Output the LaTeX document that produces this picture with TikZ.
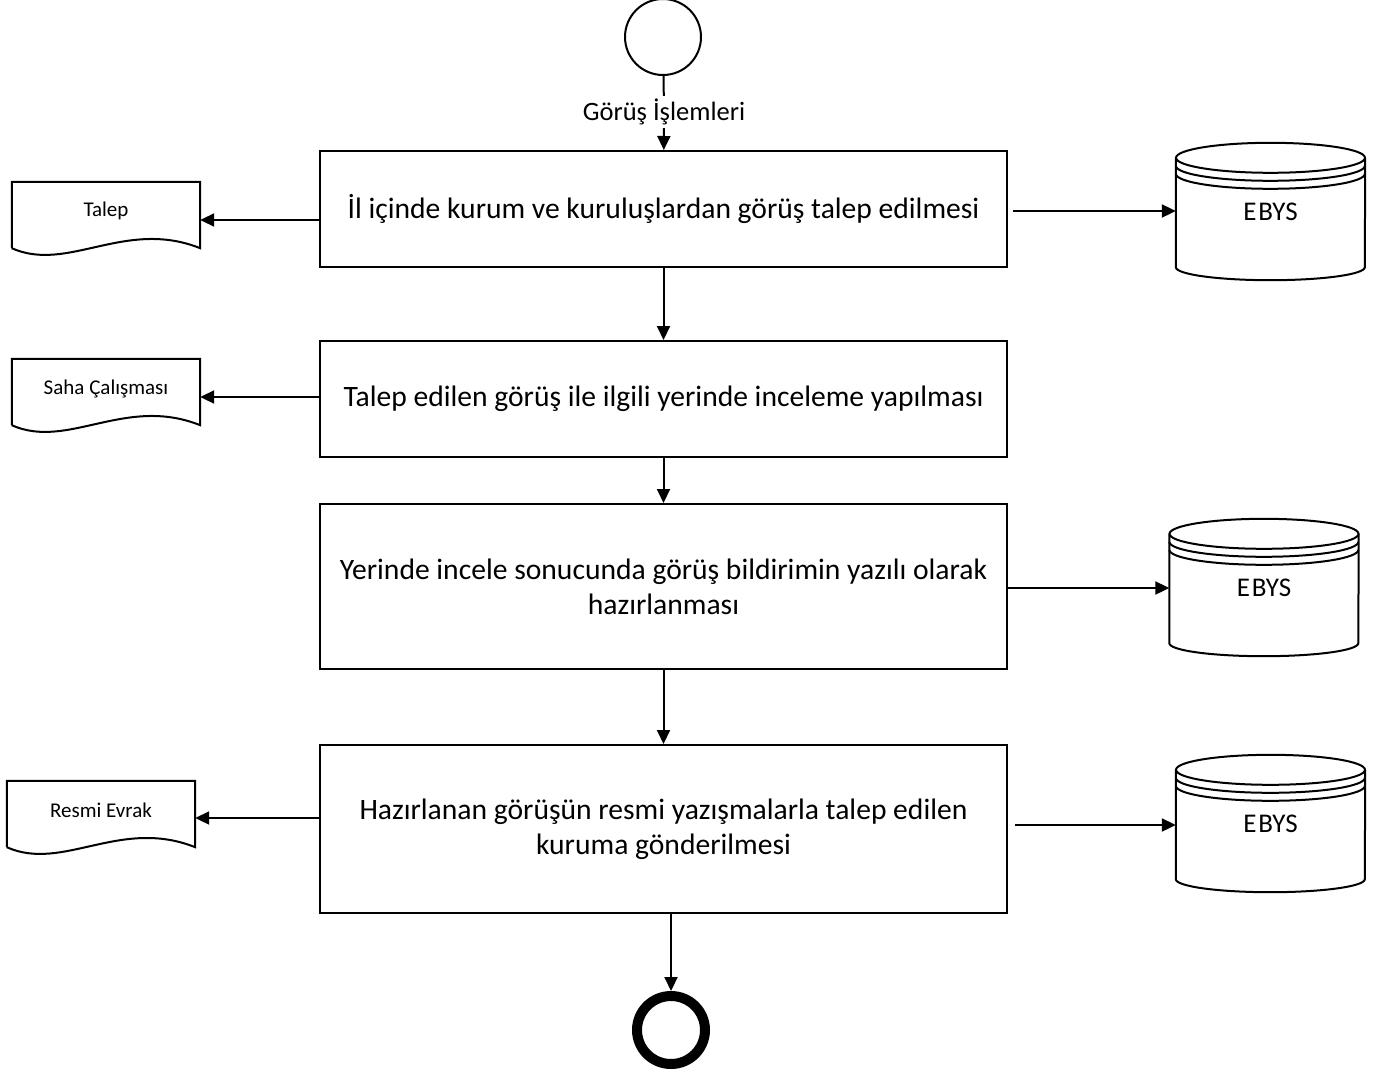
\documentclass[tikz,border=0pt]{standalone}
\usepackage{fontspec}
\setmainfont{Carlito}
\usetikzlibrary{arrows.meta,calc}
\tikzset{
  procbox/.style={draw, line width=2pt, minimum width=687pt, align=center, inner sep=0pt,
    font=\fontsize{29.6}{35}\selectfont},
  docnode/.style={minimum width=188pt, minimum height=66pt, inner sep=0pt,
    font=\fontsize{21}{25}\selectfont},
  cylnode/.style={minimum width=189pt, minimum height=137pt, inner sep=0pt,
    font=\fontsize{27}{30}\selectfont},
  shapeline/.style={line width=2pt},
  arr/.style={line width=2pt, -{Triangle[length=14pt,width=13pt]}},
  plain/.style={line width=2pt}
}
\newcommand\mydoc[1]{%
  \draw[shapeline, line join=miter] (#1.south west) -- (#1.north west) -- (#1.north east) -- (#1.south east)
    .. controls ($(#1.south east)+(-75,30)$) and ($(#1.south west)+(56,-25)$) .. (#1.south west);}
\newcommand\mycyl[1]{%
  \draw[shapeline] ($(#1.north)+(0,-15)$) ellipse[x radius=94.5pt, y radius=15pt];
  \draw[shapeline] ($(#1.north west)+(0,-15)$) -- ($(#1.south west)+(0,13)$)
    arc[start angle=180, end angle=360, x radius=94.5pt, y radius=13pt]
    -- ($(#1.north east)+(0,-15)$);
  \draw[shapeline] ($(#1.north west)+(0,-23)$) arc[start angle=180, end angle=360, x radius=94.5pt, y radius=15pt];
  \draw[shapeline] ($(#1.north west)+(0,-31)$) arc[start angle=180, end angle=360, x radius=94.5pt, y radius=15pt];}
\begin{document}
\begin{tikzpicture}[x=1pt,y=1pt]
\useasboundingbox (0,0) rectangle (1388,-1076);
% start
\node[circle, draw, line width=2pt, minimum size=76pt, inner sep=0pt] (start) at (663,-37) {};
\node[font=\fontsize{26.5}{30}\selectfont, inner sep=3pt] (lbl) at (664,-112) {Görüş İşlemleri};
% process boxes
\node[procbox, minimum height=116pt] (b1) at (663.5,-209) {İl içinde kurum ve kuruluşlardan görüş talep edilmesi};
\node[procbox, minimum height=116pt] (b2) at (663.5,-399) {Talep edilen görüş ile ilgili yerinde inceleme yapılması};
\node[procbox, minimum height=165pt] (b3) at (663.5,-586.5) {Yerinde incele sonucunda görüş bildirimin yazılı olarak\\hazırlanması};
\node[procbox, minimum height=168pt] (b4) at (663.5,-829) {Hazırlanan görüşün resmi yazışmalarla talep edilen\\kuruma gönderilmesi};
% end
\node[circle, draw, line width=10pt, minimum size=68pt, inner sep=0pt] (endc) at (671,-1030) {};
% documents
\node[docnode, label={[font=\fontsize{21}{25}\selectfont, yshift=4pt]center:Talep}] (d1) at (106,-215) {};
\node[docnode, label={[font=\fontsize{21}{25}\selectfont, yshift=3pt]center:Saha Çalışması}] (d2) at (106,-392) {};
\node[docnode, label={[font=\fontsize{21}{25}\selectfont, yshift=4pt]center:Resmi Evrak}] (d3) at (101,-814) {};
\mydoc{d1}\mydoc{d2}\mydoc{d3}
% databases
\node[cylnode] (e1) at (1270.5,-211.5) {E\kern2pt BYS};
\node[cylnode] (e2) at (1264,-587.5) {E\kern2pt BYS};
\node[cylnode] (e3) at (1270.5,-823.5) {E\kern2pt BYS};
\mycyl{e1}\mycyl{e2}\mycyl{e3}
% flow
\draw[plain] (start) -- (lbl);
\draw[arr] (lbl) -- (b1);
\draw[arr] (b1) -- (b2);
\draw[arr] (b2) -- (b3);
\draw[arr] (b3) -- (b4);
\draw[arr] (endc.north |- b4.south) -- (endc);
% side connectors
\draw[arr] ([yshift=-11pt]b1.west) coordinate (a1) -- (a1 -| d1.east);
\draw[arr] ([yshift=2pt]b2.west) coordinate (a2) -- (a2 -| d2.east);
\draw[arr] ([yshift=11pt]b4.west) coordinate (a3) -- (a3 -| d3.east);
\draw[arr] ([xshift=5pt,yshift=-2pt]b1.east) coordinate (c1) -- (c1 -| e1.west);
\draw[arr] ([yshift=-1.5pt]b3.east) coordinate (c2) -- (c2 -| e2.west);
\draw[arr] ([xshift=7pt,yshift=4pt]b4.east) coordinate (c3) -- (c3 -| e3.west);
\end{tikzpicture}
\end{document}
